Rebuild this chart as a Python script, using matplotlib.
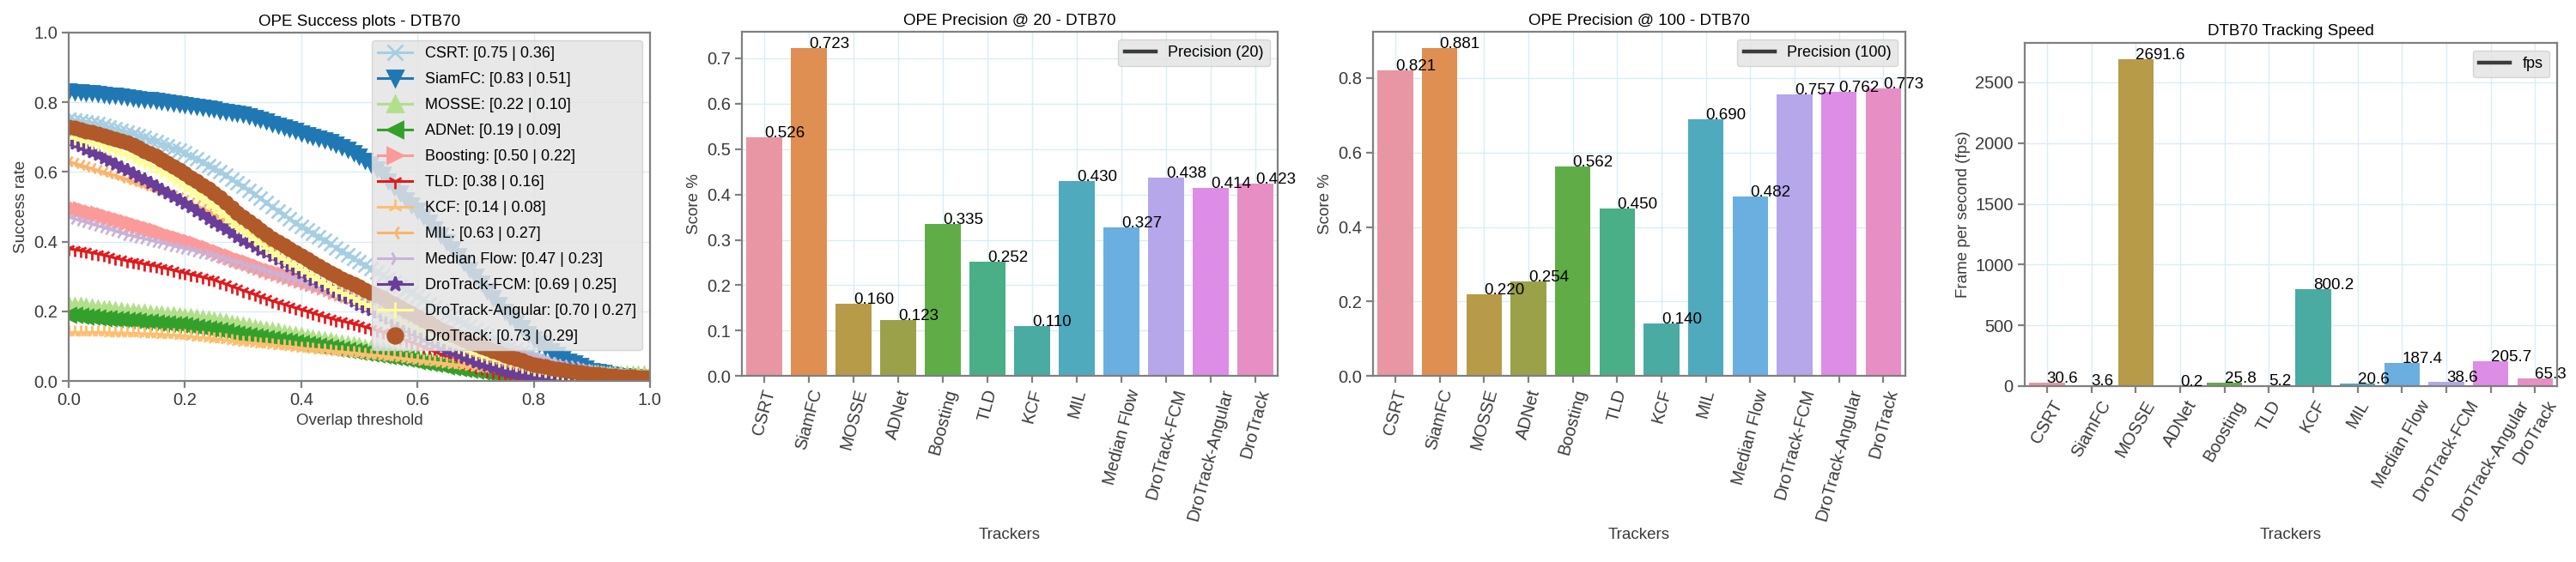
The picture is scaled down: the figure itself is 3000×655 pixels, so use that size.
import matplotlib
matplotlib.use("Agg")
import matplotlib.pyplot as plt
from matplotlib.lines import Line2D
import numpy as np
import seaborn as sns

# ---- data -------------------------------------------------------------
trackers = ["CSRT", "SiamFC", "MOSSE", "ADNet", "Boosting", "TLD", "KCF",
            "MIL", "Median Flow", "DroTrack-FCM", "DroTrack-Angular", "DroTrack"]

precision_20 = [0.526, 0.723, 0.160, 0.123, 0.335, 0.252, 0.110,
                0.430, 0.327, 0.438, 0.414, 0.423]
precision_100 = [0.821, 0.881, 0.220, 0.254, 0.562, 0.450, 0.140,
                 0.690, 0.482, 0.757, 0.762, 0.773]
fps = [30.6, 3.6, 2691.6, 0.2, 25.8, 5.2, 800.2, 20.6, 187.4, 38.6, 205.7, 65.3]

# legend numbers [success at 0 | AUC]
success_labels = ["[0.75 | 0.36]", "[0.83 | 0.51]", "[0.22 | 0.10]", "[0.19 | 0.09]",
                  "[0.50 | 0.22]", "[0.38 | 0.16]", "[0.14 | 0.08]", "[0.63 | 0.27]",
                  "[0.47 | 0.23]", "[0.69 | 0.25]", "[0.70 | 0.27]", "[0.73 | 0.29]"]

# overlap thresholds 0.00 .. 1.00 (step 0.01)
thresholds = np.linspace(0, 1, 101)

succ_csrt = [0.752, 0.749, 0.747, 0.744, 0.741, 0.738, 0.733, 0.729, 0.724, 0.720, 0.715,
             0.710, 0.704, 0.699, 0.693, 0.688, 0.681, 0.675, 0.668, 0.662, 0.655,
             0.646, 0.637, 0.628, 0.619, 0.610, 0.600, 0.590, 0.580, 0.570, 0.560,
             0.548, 0.536, 0.524, 0.512, 0.500, 0.489, 0.477, 0.466, 0.454, 0.443,
             0.433, 0.423, 0.413, 0.403, 0.393, 0.383, 0.373, 0.363, 0.353, 0.343,
             0.333, 0.323, 0.313, 0.303, 0.293, 0.283, 0.273, 0.263, 0.253, 0.243,
             0.233, 0.223, 0.213, 0.203, 0.193, 0.184, 0.175, 0.166, 0.157, 0.148,
             0.139, 0.131, 0.122, 0.114, 0.105, 0.098, 0.092, 0.085, 0.079, 0.072,
             0.067, 0.062, 0.058, 0.053, 0.048, 0.044, 0.040, 0.036, 0.032, 0.028,
             0.025, 0.023, 0.020, 0.018, 0.015, 0.014, 0.013, 0.012, 0.011, 0.010]
succ_siamfc = [0.833, 0.831, 0.830, 0.828, 0.827, 0.825, 0.823, 0.821, 0.819, 0.817, 0.815,
               0.813, 0.811, 0.809, 0.807, 0.805, 0.803, 0.800, 0.798, 0.795, 0.793,
               0.790, 0.788, 0.785, 0.783, 0.780, 0.777, 0.774, 0.771, 0.768, 0.765,
               0.761, 0.757, 0.752, 0.746, 0.740, 0.735, 0.730, 0.724, 0.719, 0.713,
               0.708, 0.703, 0.698, 0.692, 0.687, 0.680, 0.672, 0.664, 0.655, 0.645,
               0.634, 0.622, 0.609, 0.593, 0.575, 0.557, 0.539, 0.521, 0.505, 0.490,
               0.472, 0.455, 0.437, 0.419, 0.400, 0.380, 0.360, 0.340, 0.320, 0.300,
               0.280, 0.260, 0.240, 0.220, 0.200, 0.184, 0.168, 0.152, 0.136, 0.120,
               0.109, 0.098, 0.087, 0.076, 0.065, 0.058, 0.051, 0.044, 0.037, 0.030,
               0.027, 0.024, 0.021, 0.018, 0.015, 0.014, 0.013, 0.012, 0.011, 0.010]
succ_mosse = [0.220, 0.218, 0.216, 0.214, 0.212, 0.210, 0.208, 0.206, 0.204, 0.202, 0.200,
              0.199, 0.197, 0.196, 0.194, 0.193, 0.192, 0.190, 0.189, 0.187, 0.186,
              0.184, 0.182, 0.179, 0.177, 0.175, 0.172, 0.169, 0.166, 0.163, 0.160,
              0.157, 0.154, 0.151, 0.148, 0.145, 0.142, 0.139, 0.136, 0.133, 0.130,
              0.127, 0.124, 0.121, 0.118, 0.115, 0.112, 0.109, 0.106, 0.103, 0.100,
              0.097, 0.094, 0.091, 0.088, 0.085, 0.082, 0.079, 0.076, 0.073, 0.070,
              0.067, 0.065, 0.062, 0.060, 0.057, 0.055, 0.052, 0.050, 0.047, 0.045,
              0.043, 0.041, 0.039, 0.037, 0.035, 0.034, 0.032, 0.031, 0.029, 0.028,
              0.027, 0.026, 0.026, 0.025, 0.024, 0.024, 0.023, 0.023, 0.022, 0.022,
              0.022, 0.021, 0.021, 0.020, 0.020, 0.020, 0.020, 0.020, 0.020, 0.020]
succ_adnet = [0.190, 0.189, 0.187, 0.186, 0.184, 0.183, 0.181, 0.180, 0.178, 0.177, 0.175,
              0.174, 0.172, 0.171, 0.169, 0.168, 0.166, 0.165, 0.163, 0.162, 0.160,
              0.158, 0.155, 0.153, 0.150, 0.148, 0.145, 0.142, 0.139, 0.136, 0.133,
              0.130, 0.128, 0.125, 0.123, 0.120, 0.118, 0.115, 0.113, 0.110, 0.108,
              0.106, 0.104, 0.101, 0.099, 0.097, 0.095, 0.092, 0.090, 0.087, 0.085,
              0.082, 0.080, 0.077, 0.075, 0.072, 0.069, 0.066, 0.064, 0.061, 0.058,
              0.055, 0.052, 0.049, 0.046, 0.043, 0.040, 0.038, 0.035, 0.033, 0.030,
              0.028, 0.025, 0.023, 0.020, 0.018, 0.016, 0.015, 0.013, 0.012, 0.010,
              0.009, 0.008, 0.007, 0.006, 0.005, 0.005, 0.004, 0.004, 0.003, 0.003,
              0.003, 0.003, 0.002, 0.002, 0.002, 0.002, 0.002, 0.002, 0.002, 0.002]
succ_boosting = [0.500, 0.496, 0.492, 0.488, 0.484, 0.480, 0.475, 0.470, 0.465, 0.460, 0.455,
                 0.450, 0.445, 0.440, 0.435, 0.430, 0.425, 0.420, 0.415, 0.410, 0.405,
                 0.399, 0.393, 0.387, 0.381, 0.375, 0.369, 0.363, 0.357, 0.351, 0.345,
                 0.339, 0.333, 0.327, 0.321, 0.315, 0.310, 0.305, 0.300, 0.295, 0.290,
                 0.285, 0.280, 0.275, 0.270, 0.265, 0.260, 0.255, 0.250, 0.245, 0.240,
                 0.234, 0.228, 0.222, 0.216, 0.210, 0.202, 0.194, 0.186, 0.178, 0.170,
                 0.160, 0.150, 0.140, 0.130, 0.120, 0.111, 0.102, 0.093, 0.084, 0.075,
                 0.069, 0.063, 0.057, 0.051, 0.045, 0.041, 0.037, 0.033, 0.029, 0.025,
                 0.023, 0.021, 0.019, 0.017, 0.015, 0.014, 0.013, 0.012, 0.011, 0.010,
                 0.010, 0.009, 0.009, 0.008, 0.008, 0.008, 0.007, 0.007, 0.006, 0.006]
succ_tld = [0.380, 0.377, 0.374, 0.371, 0.368, 0.365, 0.361, 0.357, 0.353, 0.349, 0.345,
            0.342, 0.339, 0.336, 0.333, 0.330, 0.326, 0.322, 0.318, 0.314, 0.310,
            0.306, 0.302, 0.298, 0.294, 0.290, 0.284, 0.278, 0.272, 0.266, 0.260,
            0.254, 0.248, 0.242, 0.236, 0.230, 0.225, 0.220, 0.215, 0.210, 0.205,
            0.200, 0.195, 0.190, 0.185, 0.180, 0.176, 0.172, 0.168, 0.164, 0.160,
            0.155, 0.150, 0.145, 0.140, 0.135, 0.129, 0.123, 0.117, 0.111, 0.105,
            0.098, 0.091, 0.084, 0.077, 0.070, 0.064, 0.058, 0.052, 0.046, 0.040,
            0.036, 0.031, 0.027, 0.022, 0.018, 0.015, 0.013, 0.010, 0.008, 0.005,
            0.004, 0.003, 0.002, 0.001, 0.000, 0.000, 0.000, 0.000, 0.000, 0.000,
            0.000, 0.000, 0.000, 0.000, 0.000, 0.000, 0.000, 0.000, 0.000, 0.000]
succ_kcf = [0.140, 0.140, 0.140, 0.140, 0.140, 0.140, 0.140, 0.139, 0.139, 0.138, 0.138,
            0.137, 0.137, 0.136, 0.136, 0.135, 0.134, 0.133, 0.132, 0.131, 0.130,
            0.128, 0.127, 0.125, 0.124, 0.122, 0.120, 0.118, 0.116, 0.114, 0.112,
            0.110, 0.109, 0.107, 0.106, 0.104, 0.102, 0.100, 0.099, 0.097, 0.095,
            0.093, 0.092, 0.090, 0.089, 0.087, 0.085, 0.084, 0.082, 0.081, 0.079,
            0.077, 0.075, 0.074, 0.072, 0.070, 0.068, 0.066, 0.064, 0.062, 0.060,
            0.058, 0.056, 0.054, 0.052, 0.050, 0.048, 0.046, 0.044, 0.042, 0.040,
            0.038, 0.037, 0.035, 0.034, 0.032, 0.031, 0.029, 0.028, 0.026, 0.025,
            0.024, 0.023, 0.022, 0.021, 0.020, 0.019, 0.019, 0.018, 0.018, 0.017,
            0.017, 0.016, 0.016, 0.015, 0.015, 0.015, 0.015, 0.015, 0.015, 0.015]
succ_mil = [0.630, 0.625, 0.620, 0.615, 0.610, 0.605, 0.600, 0.595, 0.590, 0.585, 0.580,
            0.574, 0.568, 0.562, 0.556, 0.550, 0.544, 0.538, 0.532, 0.526, 0.520,
            0.512, 0.504, 0.496, 0.488, 0.480, 0.471, 0.462, 0.453, 0.444, 0.435,
            0.426, 0.417, 0.408, 0.399, 0.390, 0.381, 0.372, 0.363, 0.354, 0.345,
            0.337, 0.329, 0.321, 0.313, 0.305, 0.297, 0.289, 0.281, 0.273, 0.265,
            0.257, 0.249, 0.241, 0.233, 0.225, 0.216, 0.207, 0.198, 0.189, 0.180,
            0.172, 0.164, 0.156, 0.148, 0.140, 0.132, 0.124, 0.116, 0.108, 0.100,
            0.094, 0.088, 0.082, 0.076, 0.070, 0.065, 0.060, 0.055, 0.050, 0.045,
            0.042, 0.039, 0.036, 0.033, 0.030, 0.028, 0.026, 0.024, 0.022, 0.020,
            0.019, 0.018, 0.017, 0.016, 0.015, 0.014, 0.014, 0.013, 0.013, 0.012]
succ_medianflow = [0.470, 0.465, 0.460, 0.455, 0.450, 0.445, 0.440, 0.435, 0.430, 0.425, 0.420,
                   0.416, 0.412, 0.408, 0.404, 0.400, 0.396, 0.392, 0.388, 0.384, 0.380,
                   0.376, 0.372, 0.368, 0.364, 0.360, 0.355, 0.350, 0.345, 0.340, 0.335,
                   0.330, 0.325, 0.320, 0.315, 0.310, 0.305, 0.300, 0.295, 0.290, 0.285,
                   0.280, 0.275, 0.270, 0.265, 0.260, 0.255, 0.250, 0.245, 0.240, 0.235,
                   0.230, 0.225, 0.220, 0.215, 0.210, 0.204, 0.198, 0.192, 0.186, 0.180,
                   0.173, 0.166, 0.159, 0.152, 0.145, 0.140, 0.135, 0.130, 0.125, 0.120,
                   0.115, 0.110, 0.105, 0.100, 0.095, 0.090, 0.085, 0.080, 0.075, 0.070,
                   0.066, 0.062, 0.058, 0.054, 0.050, 0.047, 0.044, 0.041, 0.038, 0.035,
                   0.032, 0.030, 0.027, 0.025, 0.022, 0.020, 0.018, 0.016, 0.014, 0.012]
succ_fcm = [0.690, 0.682, 0.674, 0.666, 0.658, 0.650, 0.641, 0.632, 0.623, 0.614, 0.605,
            0.596, 0.587, 0.578, 0.569, 0.560, 0.550, 0.540, 0.530, 0.520, 0.510,
            0.499, 0.488, 0.477, 0.466, 0.455, 0.445, 0.435, 0.425, 0.415, 0.405,
            0.396, 0.387, 0.378, 0.369, 0.360, 0.350, 0.340, 0.330, 0.320, 0.310,
            0.301, 0.292, 0.283, 0.274, 0.265, 0.256, 0.247, 0.238, 0.229, 0.220,
            0.212, 0.204, 0.196, 0.188, 0.180, 0.171, 0.162, 0.153, 0.144, 0.135,
            0.126, 0.117, 0.108, 0.099, 0.090, 0.083, 0.076, 0.069, 0.062, 0.055,
            0.050, 0.045, 0.040, 0.035, 0.030, 0.026, 0.023, 0.019, 0.016, 0.012,
            0.010, 0.008, 0.006, 0.004, 0.002, 0.001, 0.000, 0.000, 0.000, 0.000,
            0.000, 0.000, 0.000, 0.000, 0.000, 0.000, 0.000, 0.000, 0.000, 0.000]
succ_angular = [0.700, 0.696, 0.692, 0.688, 0.684, 0.680, 0.674, 0.668, 0.662, 0.656, 0.650,
                0.642, 0.634, 0.626, 0.618, 0.610, 0.600, 0.590, 0.580, 0.570, 0.560,
                0.548, 0.536, 0.524, 0.512, 0.500, 0.486, 0.472, 0.458, 0.444, 0.430,
                0.418, 0.406, 0.394, 0.382, 0.370, 0.360, 0.350, 0.340, 0.330, 0.320,
                0.310, 0.300, 0.290, 0.280, 0.270, 0.262, 0.254, 0.246, 0.238, 0.230,
                0.222, 0.214, 0.206, 0.198, 0.190, 0.182, 0.174, 0.166, 0.158, 0.150,
                0.142, 0.134, 0.126, 0.118, 0.110, 0.104, 0.098, 0.092, 0.086, 0.080,
                0.075, 0.070, 0.065, 0.060, 0.055, 0.051, 0.047, 0.043, 0.039, 0.035,
                0.032, 0.030, 0.027, 0.025, 0.022, 0.020, 0.019, 0.017, 0.016, 0.014,
                0.013, 0.012, 0.012, 0.011, 0.010, 0.010, 0.009, 0.009, 0.008, 0.008]
succ_drotrack = [0.730, 0.726, 0.722, 0.718, 0.714, 0.710, 0.705, 0.700, 0.695, 0.690, 0.685,
                 0.677, 0.669, 0.661, 0.653, 0.645, 0.635, 0.625, 0.615, 0.605, 0.595,
                 0.584, 0.573, 0.562, 0.551, 0.540, 0.526, 0.512, 0.498, 0.484, 0.470,
                 0.458, 0.446, 0.434, 0.422, 0.410, 0.400, 0.390, 0.380, 0.370, 0.360,
                 0.350, 0.340, 0.330, 0.320, 0.310, 0.302, 0.294, 0.286, 0.278, 0.270,
                 0.262, 0.254, 0.246, 0.238, 0.230, 0.221, 0.212, 0.203, 0.194, 0.185,
                 0.176, 0.167, 0.158, 0.149, 0.140, 0.133, 0.126, 0.119, 0.112, 0.105,
                 0.099, 0.093, 0.087, 0.081, 0.075, 0.070, 0.064, 0.059, 0.053, 0.048,
                 0.045, 0.042, 0.038, 0.035, 0.032, 0.030, 0.027, 0.025, 0.022, 0.020,
                 0.019, 0.017, 0.016, 0.014, 0.013, 0.012, 0.012, 0.011, 0.011, 0.010]

success_curves = [succ_csrt, succ_siamfc, succ_mosse, succ_adnet, succ_boosting, succ_tld,
                  succ_kcf, succ_mil, succ_medianflow, succ_fcm, succ_angular, succ_drotrack]

# ---- style ------------------------------------------------------------
line_colors = ["#a6cee3", "#1f78b4", "#b2df8a", "#33a02c", "#fb9a99", "#e31a1c",
               "#fdbf6f", "#fdb36a", "#cab2d6", "#6a3d9a", "#ffff99", "#b15928"]
line_markers = ["x", "v", "^", "<", ">", "1", "2", "3", "4", "*", "+", "o"]
bar_colors = ["#e896a3", "#e08f52", "#b79b48", "#9ba148", "#60ad47", "#4aaf87",
              "#4aaba3", "#4faabd", "#6baee0", "#b5a7ea", "#dd8de6", "#e78fc5"]

plt.rcParams["font.family"] = ["Liberation Sans", "DejaVu Sans"]
plt.rcParams["axes.edgecolor"] = "#808080"
plt.rcParams["axes.linewidth"] = 1.6
plt.rcParams["xtick.color"] = "#808080"
plt.rcParams["ytick.color"] = "#808080"
plt.rcParams["xtick.labelcolor"] = "#3a3a3a"
plt.rcParams["ytick.labelcolor"] = "#3a3a3a"
plt.rcParams["xtick.major.size"] = 6
plt.rcParams["ytick.major.size"] = 6
plt.rcParams["xtick.major.width"] = 1.6
plt.rcParams["ytick.major.width"] = 1.6
plt.rcParams["xtick.labelsize"] = 14.5
plt.rcParams["ytick.labelsize"] = 14.5
plt.rcParams["axes.labelsize"] = 13.5
plt.rcParams["axes.labelcolor"] = "#3a3a3a"
plt.rcParams["axes.titlesize"] = 13.5
plt.rcParams["grid.color"] = "#d8eef6"
plt.rcParams["grid.linewidth"] = 1.0
plt.rcParams["legend.facecolor"] = "#e4e4e4"
plt.rcParams["legend.edgecolor"] = "#d0d0d0"
plt.rcParams["legend.framealpha"] = 0.85
plt.rcParams["legend.fontsize"] = 13

fig = plt.figure(figsize=(30, 6.55), dpi=100)

# ---- success plot -----------------------------------------------------
ax1 = fig.add_axes([0.0267, 0.322, 0.2256, 0.620])
for name, curve, col, mk, lab in zip(trackers, success_curves, line_colors,
                                     line_markers, success_labels):
    ls = "" if mk == "o" else "-"
    ax1.plot(thresholds, curve, linestyle=ls, color=col, marker=mk, markersize=11,
             markeredgewidth=2, linewidth=2.2, label=f"{name}: {lab}")
ax1.set_xlim(0, 1)
ax1.set_ylim(0, 1)
ax1.grid(True)
ax1.set_axisbelow(True)
ax1.set_title("OPE Success plots - DTB70")
ax1.set_xlabel("Overlap threshold")
ax1.set_ylabel("Success rate")
ax1.legend(loc="upper right", labelspacing=0.72, handlelength=2.2, fancybox=True,
           markerscale=1.15)


def bar_panel(rect, values, title, ylabel, legend_label, fmt, rot):
    ax = fig.add_axes(rect)
    sns.barplot(x=trackers, y=values, hue=trackers, palette=bar_colors,
                saturation=1, legend=False, ax=ax, zorder=2)
    for i, v in enumerate(values):
        ax.text(i, v, fmt.format(v), fontsize=13.5, color="black", zorder=3)
    ax.grid(True)
    ax.set_axisbelow(True)
    ax.set_title(title)
    ax.set_xlabel("Trackers")
    ax.set_ylabel(ylabel)
    plt.setp(ax.get_xticklabels(), rotation=rot)
    handle = Line2D([0], [0], color="#3b3b3b", linewidth=3.2)
    ax.legend([handle], [legend_label], loc="upper right", fancybox=True)
    return ax


bar_panel([0.288, 0.331, 0.208, 0.613], precision_20, "OPE Precision @ 20 - DTB70",
          "Score %", "Precision (20)", "{:.3f}", 75)
bar_panel([0.533, 0.331, 0.2067, 0.613], precision_100, "OPE Precision @ 100 - DTB70",
          "Score %", "Precision (100)", "{:.3f}", 75)
bar_panel([0.786, 0.313, 0.2067, 0.611], fps, "DTB70 Tracking Speed",
          "Frame per second (fps)", "fps", "{:.1f}", 60)

fig.savefig("out.png", dpi=100)
